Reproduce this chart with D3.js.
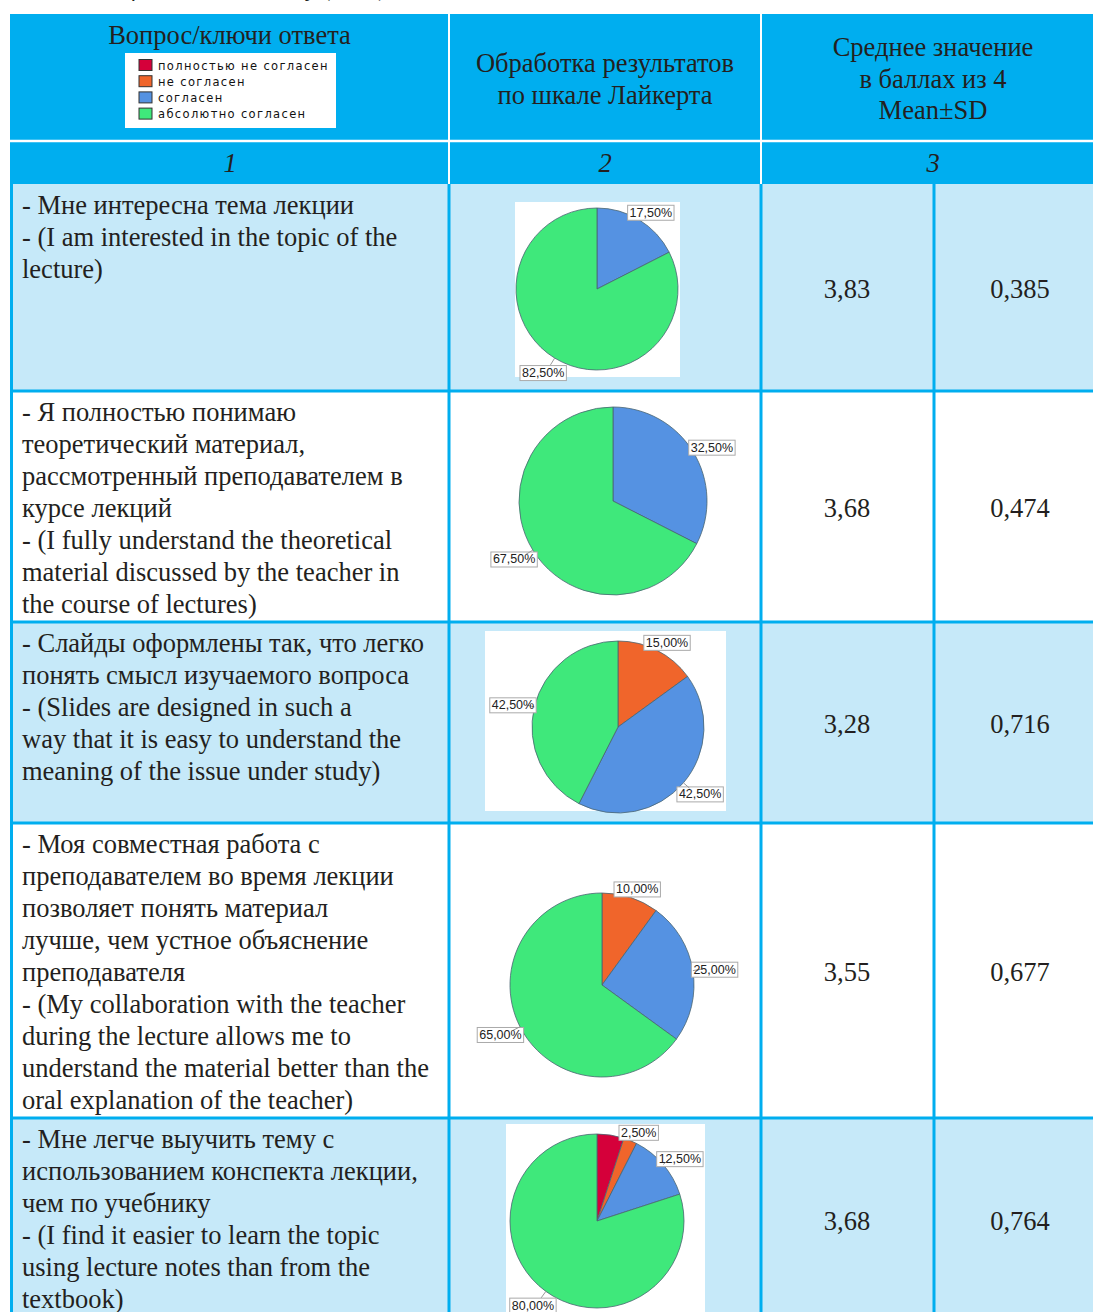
<!DOCTYPE html>
<html><head><meta charset="utf-8">
<script src="https://cdn.jsdelivr.net/npm/d3@7"></script>
<style>html,body{margin:0;padding:0;background:#fff;overflow:hidden}</style>
</head><body>
<script>
// ---------- DATA ----------
const categories = ["полностью не согласен", "не согласен", "согласен", "абсолютно согласен"];
const headerCol1 = "Вопрос/ключи ответа";
const headerCol2 = ["Обработка результатов", "по шкале Лайкерта"];
const headerCol3 = ["Среднее значение", "в баллах из 4", "Mean±SD"];
const colNumbers = ["1", "2", "3"];
const questions = [
  ["- Мне интересна тема лекции", "- (I am interested in the topic of the", "lecture)"],
  ["- Я полностью понимаю", "теоретический материал,", "рассмотренный преподавателем в", "курсе лекций", "- (I fully understand the theoretical", "material discussed by the teacher in", "the course of lectures)"],
  ["- Слайды оформлены так, что легко", "понять смысл изучаемого вопроса", "- (Slides are designed in such a", "way that it is easy to understand the", "meaning of the issue under study)"],
  ["- Моя совместная работа с", "преподавателем во время лекции", "позволяет понять материал", "лучше, чем устное объяснение", "преподавателя", "- (My collaboration with the teacher", "during the lecture allows me to", "understand the material better than the", "oral explanation of the teacher)"],
  ["- Мне легче выучить тему с", "использованием конспекта лекции,", "чем по учебнику", "- (I find it easier to learn the topic", "using lecture notes than from the", "textbook)"]
];
// shares (%) per answer category: [полностью не согласен, не согласен, согласен, абсолютно согласен]
const pieValues = [
  [0, 0, 17.5, 82.5],
  [0, 0, 32.5, 67.5],
  [0, 15, 42.5, 42.5],
  [0, 10, 25, 65],
  [5, 2.5, 12.5, 80]
];
const pieLabels = [
  [null, null, "17,50%", "82,50%"],
  [null, null, "32,50%", "67,50%"],
  [null, "15,00%", "42,50%", "42,50%"],
  [null, "10,00%", "25,00%", "65,00%"],
  [null, "2,50%", "12,50%", "80,00%"]
];
const means = ["3,83", "3,68", "3,28", "3,55", "3,68"];
const sds = ["0,385", "0,474", "0,716", "0,677", "0,764"];
const topCaption = "Table 1. Results of the student survey (2021)";

// ---------- LAYOUT / STYLE ----------
const W = 1093, H = 1312;
const colors = ["#D5003A", "#F0652B", "#5592E2", "#3FE87B"];
const cyan = "#00AEEF", lightRow = "#C6E9F9";
const serif = "'Liberation Serif','Times New Roman',serif";
const FS = 26.5;
const tableLeft = 10, tableTop = 14, headerSep = 141, numRowBottom = 184;
const colX = [10, 449, 761, 934, 1093];
const rowTops = [184, 391, 622, 823, 1118, 1322];
const rowFill = [lightRow, "#ffffff", lightRow, "#ffffff", lightRow];
const pieGeom = [
  {cx: 597, cy: 289, r: 81, bg: [515, 202, 165, 175]},
  {cx: 613, cy: 501, r: 94, bg: null},
  {cx: 618, cy: 727, r: 86, bg: [485, 631, 241, 180]},
  {cx: 602, cy: 985, r: 92, bg: null},
  {cx: 597, cy: 1221, r: 87, bg: [506, 1124, 199, 200]}
];

const svg = d3.select("body").append("svg").attr("width", W).attr("height", H)
  .attr("viewBox", `0 0 ${W} ${H}`);
svg.append("rect").attr("width", W).attr("height", H).attr("fill", "#fff");

// top caption (clipped by page edge, as in the source)
svg.append("text").attr("x", 388).attr("y", -4).attr("text-anchor", "end")
  .attr("font-family", serif).attr("font-style", "italic").attr("font-size", 24)
  .attr("fill", "#231F20").text(topCaption);

// header background
svg.append("rect").attr("x", tableLeft).attr("y", tableTop).attr("width", W - tableLeft)
  .attr("height", numRowBottom - tableTop).attr("fill", cyan);

// data rows
svg.append("g").selectAll("rect").data(questions).join("rect")
  .attr("x", tableLeft).attr("y", (d, i) => rowTops[i])
  .attr("width", W - tableLeft).attr("height", (d, i) => rowTops[i + 1] - rowTops[i])
  .attr("fill", (d, i) => rowFill[i]);

// pie background images
svg.append("g").selectAll("rect").data(pieGeom.filter(p => p.bg)).join("rect")
  .attr("x", d => d.bg[0]).attr("y", d => d.bg[1]).attr("width", d => d.bg[2]).attr("height", d => d.bg[3])
  .attr("fill", "#fff");

// header white lines
svg.append("line").attr("x1", tableLeft).attr("x2", W).attr("y1", headerSep).attr("y2", headerSep)
  .attr("stroke", "#fff").attr("stroke-width", 2.5);
[colX[1], colX[2]].forEach(x => svg.append("line").attr("x1", x).attr("x2", x)
  .attr("y1", tableTop).attr("y2", numRowBottom).attr("stroke", "#fff").attr("stroke-width", 2));

// data grid lines (cyan)
const grid = svg.append("g").attr("stroke", cyan).attr("stroke-width", 3);
rowTops.slice(1, 5).forEach(y => grid.append("line").attr("x1", tableLeft).attr("x2", W).attr("y1", y).attr("y2", y));
[colX[0] + 1.5, colX[1], colX[2], colX[3]].forEach(x => grid.append("line").attr("x1", x).attr("x2", x)
  .attr("y1", numRowBottom).attr("y2", H));

// header texts
const txt = (g, x, y, s, opts = {}) => g.append("text").attr("x", x).attr("y", y)
  .attr("text-anchor", opts.anchor || "middle").attr("font-family", serif)
  .attr("font-size", opts.size || FS).attr("font-style", opts.italic ? "italic" : null)
  .attr("fill", "#231F20").text(s);
const hdr = svg.append("g");
txt(hdr, (colX[0] + colX[1]) / 2, 44, headerCol1);
headerCol2.forEach((s, i) => txt(hdr, (colX[1] + colX[2]) / 2, 72 + i * 32, s));
headerCol3.forEach((s, i) => txt(hdr, 933, 56 + i * 31.5, s));
colNumbers.forEach((s, i) => txt(hdr, [230, 605, 933][i], 172, s, {italic: true}));

// legend box
const leg = svg.append("g").attr("transform", "translate(125,53)");
leg.append("rect").attr("width", 211).attr("height", 75).attr("fill", "#fff");
const li = leg.selectAll("g").data(categories).join("g")
  .attr("transform", (d, i) => `translate(14,${6.5 + i * 16.2})`);
li.append("rect").attr("width", 13).attr("height", 11).attr("fill", (d, i) => colors[i])
  .attr("stroke", "#333").attr("stroke-width", 1);
li.append("text").attr("x", 19).attr("y", 10).attr("font-family", "'DejaVu Sans',sans-serif")
  .attr("font-size", 11.5).attr("letter-spacing", 1.35).attr("fill", "#111").text(d => d);

// question texts + mean/SD
questions.forEach((lines, i) => {
  const g = svg.append("g");
  lines.forEach((s, j) => txt(g, 22, rowTops[i] + 30 + j * 32, s, {anchor: "start"}));
  const mid = (rowTops[i] + rowTops[i + 1]) / 2 + 10;
  txt(g, 847, mid, means[i]);
  txt(g, 1020, mid, sds[i]);
});

// pies
const pie = d3.pie().sort(null).value(d => d);
pieValues.forEach((vals, i) => {
  const p = pieGeom[i];
  const g = svg.append("g").attr("transform", `translate(${p.cx},${p.cy})`);
  const arcs = pie(vals);
  const arc = d3.arc().innerRadius(0).outerRadius(p.r);
  g.selectAll("path").data(arcs.filter(a => a.value > 0)).join("path")
    .attr("d", arc).attr("fill", d => colors[d.index])
    .attr("stroke", "#4a6572").attr("stroke-width", 1).attr("stroke-opacity", 0.8);
  const lab = arcs.filter(a => a.value > 0 && pieLabels[i][a.index]);
  lab.forEach(a => {
    const ang = (a.startAngle + a.endAngle) / 2, s = Math.sin(ang), c = Math.cos(ang);
    const lx = s * (p.r + 22), ly = -c * (p.r + (c > 0 ? 9 : 17));
    g.append("line").attr("x1", s * p.r).attr("y1", -c * p.r)
      .attr("x2", s * (p.r + 8)).attr("y2", -c * (p.r + 8))
      .attr("stroke", "#999").attr("stroke-width", 1);
    const t = g.append("text").attr("x", lx).attr("y", ly + 4.5).attr("text-anchor", "middle")
      .attr("font-family", "'Liberation Sans',Arial,sans-serif").attr("font-size", 12.5)
      .attr("fill", "#222").text(pieLabels[i][a.index]);
    const bb = t.node().getBBox();
    g.insert("rect", "text").attr("x", bb.x - 2).attr("y", bb.y - 0.5).attr("width", bb.width + 4)
      .attr("height", bb.height + 1).attr("fill", "#fff").attr("stroke", "#aaa").attr("stroke-width", 1);
  });
});
</script>
</body></html>
